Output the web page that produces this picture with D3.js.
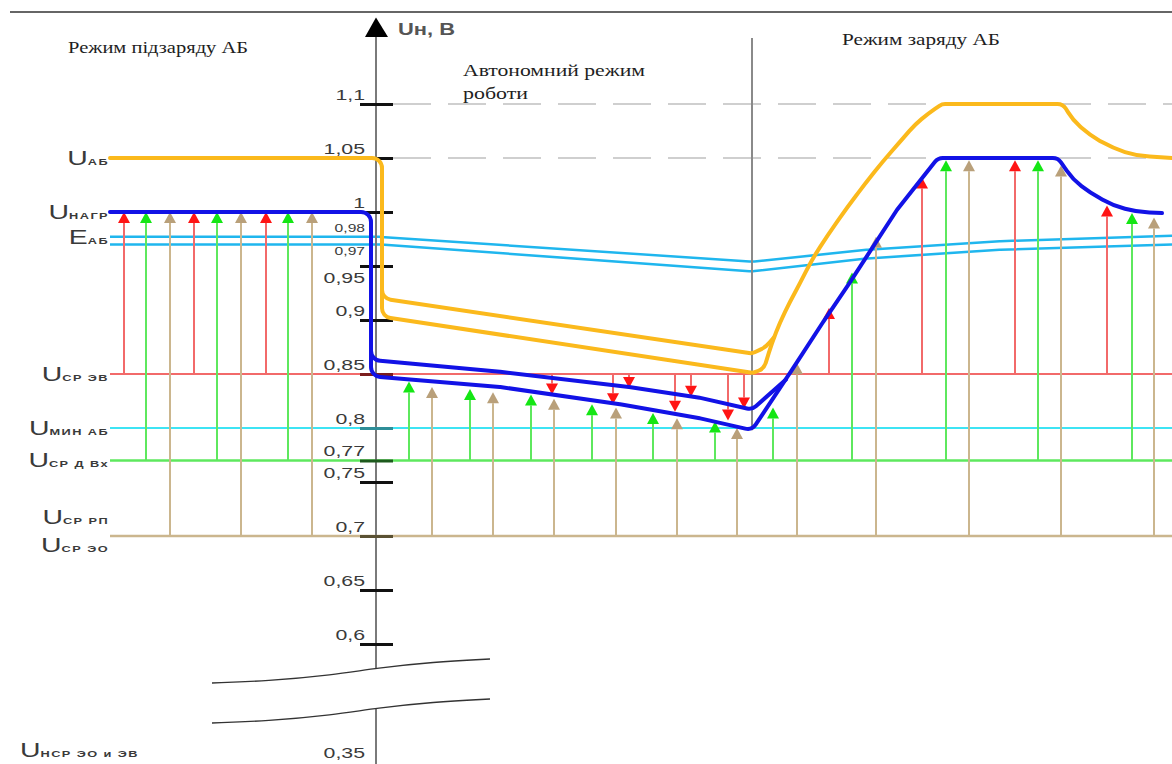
<!DOCTYPE html>
<html>
<head>
<meta charset="utf-8">
<script src="https://cdn.jsdelivr.net/npm/d3@7"></script>
<style>
  html, body { margin: 0; padding: 0; background: #fff; }
  svg { display: block; }
</style>
</head>
<body>
<svg id="chart" width="1172" height="764"></svg>
<script>
// time in arbitrary units, 0 = the voltage axis, tSwitch = start of charge mode
const tStart = -26.6, tEnd = 79.6, tSwitch = 37.6;

// reference levels (relative voltage)
const uSrEV = 0.85, uMinAB = 0.8, uSrDVx = 0.77, uSrEO = 0.7;
const dashedLevels = [1.1, 1.05];

const tickValues = [1.1, 1.05, 1, 0.95, 0.9, 0.85, 0.8, 0.77, 0.75, 0.7, 0.65, 0.6, 0.35];
const smallLabels = [0.98, 0.97];

// U_AB (orange)
const uabMain = [
  [-26.6, 1.05], [0.6, 1.05], [0.6, 0.903], [37.7, 0.851], [38.8, 0.855], [39.6, 0.879],
  [40.4, 0.898], [41.4, 0.917], [42.4, 0.934], [43.6, 0.956], [45.2, 0.979], [47.1, 1.004],
  [48.9, 1.026], [50.7, 1.047], [52.4, 1.065], [53.9, 1.081], [55.2, 1.091], [56.6, 1.1],
  [68.7, 1.1], [69.7, 1.085], [71.4, 1.071], [73.7, 1.059], [76.1, 1.052], [79.6, 1.05]
];
const uabUpper = [[0.6, 0.937], [0.6, 0.92], [37.6, 0.869], [39.0, 0.875], [39.8, 0.884]];

// U_НАГР (blue)
const nagrMain = [
  [-26.6, 1.0], [-0.5, 1.0], [-0.5, 0.848], [12.4, 0.838], [24.4, 0.822], [32.4, 0.809],
  [37.6, 0.798], [41.4, 0.851], [44.7, 0.898], [47.4, 0.935], [52.1, 1.002], [56.2, 1.05],
  [68.2, 1.05], [69.7, 1.03], [71.4, 1.018], [73.7, 1.006], [76.1, 1.0], [78.6, 0.999]
];
const nagrUpper = [[-0.5, 0.919], [-0.5, 0.863], [12.4, 0.852], [25.3, 0.838], [32.4, 0.828], [37.6, 0.817], [41.0, 0.845]];

// E_АБ (two cyan lines)
const eabUpper = [[-26.6, 0.977], [0.4, 0.977], [37.6, 0.954], [49.1, 0.965], [62.4, 0.973], [79.6, 0.978]];
const eabLower = [[-26.6, 0.970], [0.4, 0.970], [37.6, 0.945], [49.1, 0.957], [62.4, 0.965], [79.6, 0.970]];

// arrows: [t, tip value]
const redUp = [[-25.2, 1], [-18.2, 1], [-11.0, 1], [45.3, 0.911], [54.6, 1.032], [63.9, 1.048], [73.1, 1.006]];
const redDown = [[17.6, 0.831], [23.7, 0.822], [25.3, 0.837], [29.9, 0.815], [31.5, 0.829], [35.2, 0.807], [36.8, 0.818]];
const greenUp = [
  [-23.0, 1], [-15.9, 1], [-8.8, 1], [3.3, 0.843], [9.4, 0.836], [15.5, 0.831], [21.6, 0.822],
  [27.7, 0.814], [33.9, 0.806], [39.7, 0.819], [47.6, 0.944], [57.0, 1.048], [66.2, 1.048], [75.6, 0.999]
];
const tanUp = [
  [-20.6, 1], [-13.5, 1], [-6.4, 1], [5.6, 0.838], [11.7, 0.833], [17.8, 0.827], [24.0, 0.819],
  [30.1, 0.809], [36.1, 0.8], [42.1, 0.86], [50.0, 0.977], [59.3, 1.048], [68.5, 1.043], [77.8, 0.995]
];

// level labels on the left: [letter, subscript, value]
const levelLabels = [
  ['U', 'АБ', 1.05], ['U', 'НАГР', 1.0], ['E', 'АБ', 0.977], ['U', 'СР ЭВ', 0.85],
  ['U', 'МИН АБ', 0.8], ['U', 'СР Д Вх', 0.77], ['U', 'СР РП', 0.718], ['U', 'СР ЭО', 0.692]
];
const bottomLabel = ['U', 'НСР ЭО и ЭВ', 0.35];

// axis break line (upper edge), shifted down for the lower edge
const breakLine = [[-16.4, 0.5639], [-10.9, 0.5657], [-4.3, 0.5713], [0.1, 0.5778], [5.7, 0.5833], [11.4, 0.5861]];

const width = 1172, height = 764;
const svg = d3.select('#chart');
const x = d3.scaleLinear().domain([tStart, tEnd]).range([110, 1172]);
const y = d3.scaleLinear().domain([0.35, 0.56, 1.2]).range([762, 687.2, -4]);
const stretch = 1.42;

const C = {
  blue: '#1212e6', orange: '#fbb91c', red: '#f26a6a', redHead: '#ff1414',
  green: '#5ee85e', greenHead: '#14e614', tan: '#cbb68e', tanHead: '#b9a07a',
  cyan: '#1fb6ee', cyanLevel: '#3ee4f4', axis: '#7a7a7a', text: '#3a3a3a'
};

const toPx = arr => arr.map(([t, v]) => [x(t), y(v)]);

// polyline with filleted corners; short segments (curved parts) get smooth large fillets
function roundedPath(pts, r) {
  const p = d3.path();
  p.moveTo(pts[0][0], pts[0][1]);
  for (let i = 1; i < pts.length - 1; i++) {
    const [x0, y0] = pts[i - 1], [x1, y1] = pts[i], [x2, y2] = pts[i + 1];
    const l1 = Math.hypot(x1 - x0, y1 - y0), l2 = Math.hypot(x2 - x1, y2 - y1);
    const a1 = Math.atan2(y1 - y0, x1 - x0), a2 = Math.atan2(y2 - y1, x2 - x1);
    let turn = Math.abs(a2 - a1);
    if (turn > Math.PI) turn = 2 * Math.PI - turn;
    const tanHalf = Math.tan(turn / 2);
    if (tanHalf < 1e-4) { p.lineTo(x1, y1); continue; }
    const limit = Math.max(l1, l2) < 50 ? 1000 : r;
    const rr = Math.min(limit, (Math.min(l1, l2) / 2) / tanHalf);
    p.arcTo(x1, y1, x2, y2, rr);
  }
  const last = pts[pts.length - 1];
  p.lineTo(last[0], last[1]);
  return p.toString();
}

// frame line on top
svg.append('line').attr('x1', 10).attr('x2', width).attr('y1', 12).attr('y2', 12)
  .attr('stroke', '#333').attr('stroke-width', 1.5);

// dashed 1.1 / 1.05 lines
svg.selectAll('line.dash').data(dashedLevels).enter().append('line')
  .attr('class', 'dash')
  .attr('x1', x(1.7)).attr('x2', x(tEnd))
  .attr('y1', d => y(d)).attr('y2', d => y(d))
  .attr('stroke', '#cfcfcf').attr('stroke-width', 2).attr('stroke-dasharray', '38,17');

// horizontal levels
const levelLines = [[uSrEV, C.red, 2], [uMinAB, C.cyanLevel, 2], [uSrDVx, C.green, 2.5], [uSrEO, C.tan, 2.5]];
svg.selectAll('line.level').data(levelLines).enter().append('line')
  .attr('class', 'level')
  .attr('x1', x(tStart)).attr('x2', x(tEnd))
  .attr('y1', d => y(d[0])).attr('y2', d => y(d[0]))
  .attr('stroke', d => d[1]).attr('stroke-width', d => d[2]);

// E_АБ
[eabUpper, eabLower].forEach(s => {
  svg.append('path').attr('d', roundedPath(toPx(s), 30))
    .attr('fill', 'none').attr('stroke', C.cyan).attr('stroke-width', 2.5);
});

// moment of switching to charge mode
svg.append('line').attr('x1', x(tSwitch)).attr('x2', x(tSwitch))
  .attr('y1', y(1.161)).attr('y2', y(0.798))
  .attr('stroke', '#8a8a8a').attr('stroke-width', 2);

// arrows
const headW = 12, headH = 11;
function drawArrows(data, base, line, head, dir) {
  const g = svg.append('g');
  g.selectAll('line').data(data).enter().append('line')
    .attr('x1', d => x(d[0])).attr('x2', d => x(d[0]))
    .attr('y1', y(base)).attr('y2', d => y(d[1]) + dir * headH)
    .attr('stroke', line).attr('stroke-width', 2);
  g.selectAll('path').data(data).enter().append('path')
    .attr('d', d => {
      const cx = x(d[0]), ty = y(d[1]);
      return `M${cx},${ty}L${cx - headW / 2},${ty + dir * headH}L${cx + headW / 2},${ty + dir * headH}Z`;
    })
    .attr('fill', head);
}
drawArrows(tanUp, uSrEO, C.tan, C.tanHead, 1);
drawArrows(greenUp, uSrDVx, C.green, C.greenHead, 1);
drawArrows(redUp, uSrEV, C.red, C.redHead, 1);
drawArrows(redDown, uSrEV, C.red, C.redHead, -1);

// vertical axis
const axisTop = 1.162, breakV = 0.5778, breakGap = 40;
svg.append('line').attr('x1', x(0)).attr('x2', x(0))
  .attr('y1', y(axisTop)).attr('y2', y(breakV))
  .attr('stroke', C.axis).attr('stroke-width', 2);
svg.append('line').attr('x1', x(0)).attr('x2', x(0))
  .attr('y1', y(breakV) + breakGap).attr('y2', height)
  .attr('stroke', C.axis).attr('stroke-width', 2);
svg.append('path')
  .attr('d', `M${x(0)},${y(1.18)}L${x(0) - 11},${y(axisTop)}L${x(0) + 12},${y(axisTop)}Z`)
  .attr('fill', '#000');

const breakGen = d3.line().curve(d3.curveBasis);
[0, breakGap].forEach(off => {
  svg.append('path').attr('d', breakGen(toPx(breakLine).map(([a, b]) => [a, b + off])))
    .attr('fill', 'none').attr('stroke', '#333').attr('stroke-width', 1.3);
});

const tickColor = v => ({ 0.85: '#7b1d1d', 0.8: '#2f8e98', 0.77: '#1d5a1d', 0.7: '#5a5133' }[v] || '#111');
const fmt = v => String(v).replace('.', ',');
const axisG = svg.append('g').attr('transform', `translate(${x(0)},0)`)
  .call(d3.axisLeft(y).tickValues(tickValues).tickFormat(fmt).tickSize(16));
axisG.select('.domain').remove();
axisG.selectAll('.tick line')
  .attr('x1', 17).attr('x2', -16)
  .attr('stroke', d => tickColor(d)).attr('stroke-width', 3)
  .attr('display', d => d === 0.35 ? 'none' : null);
axisG.selectAll('.tick text')
  .attr('x', null).attr('dy', null)
  .attr('transform', d => `translate(-11,${d === 0.95 ? 16 : -5}) scale(${stretch},1)`)
  .attr('font-family', "'Liberation Sans', Arial, sans-serif").attr('font-size', 15)
  .attr('fill', C.text).attr('text-anchor', 'end');

svg.selectAll('text.small').data(smallLabels).enter().append('text')
  .attr('class', 'small')
  .attr('transform', d => `translate(${x(0) - 11},${y(d) + (d === 0.97 ? 11 : -2)}) scale(${stretch},1)`)
  .attr('text-anchor', 'end')
  .attr('font-family', "'Liberation Sans', Arial, sans-serif").attr('font-size', 11)
  .attr('fill', C.text).text(fmt);

// curves
[[uabUpper, C.orange], [uabMain, C.orange], [nagrUpper, C.blue], [nagrMain, C.blue]].forEach(([s, col]) => {
  svg.append('path').attr('d', roundedPath(toPx(s), 10))
    .attr('fill', 'none').attr('stroke', col).attr('stroke-width', 4)
    .attr('stroke-linejoin', 'round').attr('stroke-linecap', 'round');
});

// level labels
function levelLabel(d, px, dy, anchor) {
  const t = svg.append('text')
    .attr('transform', `translate(${px},${y(d[2]) + dy}) scale(${stretch},1)`)
    .attr('text-anchor', anchor).attr('fill', C.text)
    .attr('font-family', "'Liberation Sans', Arial, sans-serif");
  t.append('tspan').attr('font-size', 20).text(d[0]);
  t.append('tspan').attr('font-size', 9).attr('font-weight', 'bold')
    .attr('letter-spacing', 1).text(d[1]);
}
levelLabels.forEach(d => levelLabel(d, x(tStart) - 1, 7, 'end'));
levelLabel(bottomLabel, 20, -5, 'start');

// axis name
svg.append('text').attr('x', 398).attr('y', 35).attr('textLength', 57).attr('lengthAdjust', 'spacingAndGlyphs')
  .attr('font-family', "'Liberation Sans', Arial, sans-serif").attr('font-size', 16)
  .attr('font-weight', 'bold').attr('fill', '#555').text('Uн, В');

// mode titles
const titles = [
  ['Режим підзаряду АБ', 68, 53, 180],
  ['Автономний режим', 463, 76, 182],
  ['роботи', 463, 99, 65],
  ['Режим заряду АБ', 842, 45, 158]
];
svg.selectAll('text.title').data(titles).enter().append('text')
  .attr('class', 'title')
  .attr('x', d => d[1]).attr('y', d => d[2])
  .attr('textLength', d => d[3]).attr('lengthAdjust', 'spacingAndGlyphs')
  .attr('font-family', "'Liberation Serif', 'Times New Roman', serif").attr('font-size', 17)
  .attr('fill', '#1e1e1e').text(d => d[0]);
</script>
</body>
</html>
